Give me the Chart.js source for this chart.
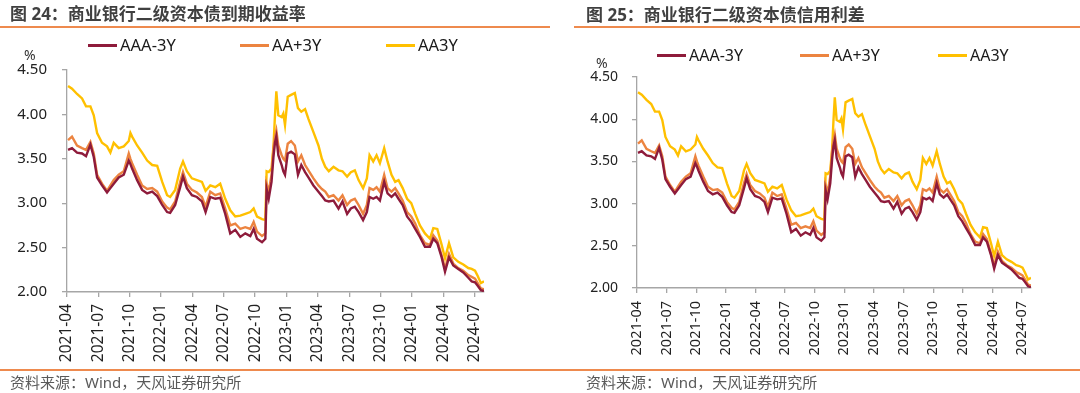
<!DOCTYPE html>
<html>
<head>
<meta charset="utf-8">
<script src="https://cdn.jsdelivr.net/npm/chart.js@4.4.1/dist/chart.umd.min.js"></script>
<style>
body { margin: 0; width: 1080px; height: 393px; overflow: hidden; background: #fff; position: relative;
       font-family: "Noto Sans", "Noto Sans CJK SC", sans-serif; }
.abs { position: absolute; white-space: nowrap; }
.title { font-size: 17px; line-height: 20px; color: #404040; font-weight: bold; }
.rule { position: absolute; background: #EE8A4E; }
.src { font-size: 15px; line-height: 20px; color: #595959; }
.unit { font-size: 14px; line-height: 18px; color: #333; }
.leg { line-height: 20px; color: #1a1a1a; }
.leg i { display: inline-block; width: 29px; height: 3px; vertical-align: middle; margin-right: 3px; position: relative; top: -1px; }
canvas { position: absolute; top: 0; }
</style>
</head>
<body>
<canvas id="c1" width="540" height="385" style="left:0"></canvas>
<canvas id="c2" width="540" height="385" style="left:540px"></canvas>

<div class="abs title" style="left:10px;top:4px">图 24：商业银行二级资本债到期收益率</div>
<div class="abs title" style="left:586px;top:5px">图 25：商业银行二级资本债信用利差</div>
<div class="rule" style="left:0;top:26px;width:550px;height:1.5px"></div>
<div class="rule" style="left:574px;top:26px;width:506px;height:1.5px"></div>
<div class="rule" style="left:0;top:369px;width:1080px;height:2px"></div>
<div class="abs src" style="left:10px;top:372px">资料来源：Wind，天风证券研究所</div>
<div class="abs src" style="left:586px;top:372px">资料来源：Wind，天风证券研究所</div>
<div class="abs unit" style="left:24px;top:46px">%</div>
<div class="abs unit" style="left:596px;top:54px">%</div>
<div id="legends"></div>

<script>
// x tick labels, one per quarter starting 2021-04
const tickLabels = ['2021-04', '2021-07', '2021-10', '2022-01', '2022-04', '2022-07', '2022-10',
                    '2023-01', '2023-04', '2023-07', '2023-10', '2024-01', '2024-04', '2024-07'];

// months since 2021-04-01
const months = [0.1, 0.48, 0.96, 1.44, 1.82, 2.24, 2.56, 2.88, 3.35, 3.83,
                4.15, 4.47, 4.95, 5.43, 5.91, 6.07, 6.23, 6.71, 7.19, 7.67,
                8.15, 8.63, 9.11, 9.58, 9.87, 10.35, 10.83, 11.1, 11.47, 11.95,
                12.43, 12.91, 13.26, 13.71, 14.19, 14.66, 15.14, 15.62, 16.1, 16.58,
                17.06, 17.54, 17.86, 18.18, 18.66, 18.98, 19.1, 19.3, 19.57, 19.76,
                19.9, 20.03, 20.22, 20.54, 20.7, 20.86, 21.12, 21.44, 21.8, 22.1,
                22.42, 22.78, 23.1, 23.58, 24.06, 24.39, 24.71, 25.05, 25.5, 25.98,
                26.36, 26.8, 27.16, 27.54, 27.9, 28.33, 28.69, 28.95, 29.3, 29.62,
                29.94, 30.35, 30.67, 31.05, 31.4, 31.72, 32.12, 32.54, 32.94, 33.32,
                33.77, 34.25, 34.73, 35.05, 35.43, 35.85, 36.17, 36.55, 36.96, 37.44,
                37.92, 38.4, 38.72, 39.04, 39.3, 39.6, 39.9];

const aaa3y = [3.60, 3.62, 3.57, 3.56, 3.53, 3.66, 3.52, 3.29, 3.20, 3.12,
               3.17, 3.22, 3.29, 3.32, 3.48, 3.44, 3.39, 3.26, 3.15, 3.11,
               3.13, 3.08, 2.98, 2.90, 2.89, 2.98, 3.18, 3.30, 3.17, 3.09,
               3.07, 3.02, 2.90, 3.07, 3.05, 3.06, 2.88, 2.66, 2.70, 2.62,
               2.66, 2.63, 2.71, 2.60, 2.56, 2.60, 3.16, 3.05, 3.24, 3.53,
               3.68, 3.75, 3.54, 3.43, 3.36, 3.32, 3.56, 3.58, 3.55, 3.32,
               3.43, 3.35, 3.29, 3.20, 3.13, 3.08, 3.03, 3.02, 3.03, 2.94,
               3.02, 2.88, 2.94, 2.96, 2.90, 2.81, 2.90, 3.07, 3.05, 3.07,
               3.03, 3.24, 3.11, 3.07, 3.11, 3.05, 2.98, 2.85, 2.79, 2.71,
               2.62, 2.51, 2.51, 2.60, 2.55, 2.39, 2.23, 2.39, 2.30, 2.26,
               2.22, 2.16, 2.12, 2.11, 2.07, 2.02, 2.01];

const aaPlus3y = [3.71, 3.75, 3.65, 3.62, 3.60, 3.69, 3.56, 3.32, 3.22, 3.14,
                  3.20, 3.26, 3.32, 3.36, 3.56, 3.50, 3.45, 3.32, 3.20, 3.16,
                  3.17, 3.13, 3.02, 2.95, 2.93, 3.02, 3.24, 3.35, 3.22, 3.15,
                  3.12, 3.07, 2.96, 3.13, 3.09, 3.11, 2.94, 2.75, 2.77, 2.71,
                  2.73, 2.71, 2.79, 2.68, 2.63, 2.66, 3.22, 3.13, 3.32, 3.62,
                  3.75, 3.82, 3.65, 3.54, 3.50, 3.48, 3.67, 3.70, 3.65, 3.47,
                  3.54, 3.43, 3.37, 3.28, 3.20, 3.16, 3.13, 3.07, 3.09, 3.03,
                  3.09, 2.98, 3.03, 3.05, 2.98, 2.88, 2.98, 3.17, 3.15, 3.18,
                  3.13, 3.32, 3.17, 3.13, 3.17, 3.11, 3.03, 2.90, 2.85, 2.77,
                  2.64, 2.55, 2.53, 2.64, 2.58, 2.41, 2.26, 2.43, 2.32, 2.27,
                  2.24, 2.19, 2.17, 2.15, 2.10, 2.04, 2.03];

const aa3y = [4.32, 4.29, 4.23, 4.18, 4.09, 4.09, 3.99, 3.79, 3.68, 3.64,
              3.57, 3.68, 3.62, 3.64, 3.70, 3.79, 3.75, 3.65, 3.57, 3.48,
              3.43, 3.42, 3.24, 3.09, 3.07, 3.15, 3.39, 3.47, 3.36, 3.28,
              3.26, 3.24, 3.14, 3.20, 3.18, 3.22, 3.05, 2.92, 2.85, 2.86,
              2.88, 2.90, 2.94, 2.85, 2.82, 2.81, 3.36, 3.35, 3.39, 3.65,
              3.99, 4.26, 3.99, 3.97, 4.01, 3.88, 4.20, 4.22, 4.24, 4.07,
              4.03, 4.06, 3.95, 3.80, 3.65, 3.50, 3.41, 3.36, 3.41, 3.37,
              3.36, 3.30, 3.35, 3.37, 3.26, 3.17, 3.28, 3.54, 3.47, 3.54,
              3.45, 3.62, 3.47, 3.32, 3.24, 3.26, 3.17, 3.05, 3.00, 2.88,
              2.75, 2.66, 2.60, 2.72, 2.71, 2.53, 2.38, 2.55, 2.39, 2.34,
              2.31, 2.27, 2.26, 2.24, 2.18, 2.10, 2.12];

const seriesNames = ['AAA-3Y', 'AA+3Y', 'AA3Y'];
const seriesColors = ['#8E1B3B', '#EC8440', '#FFC000'];

Chart.defaults.font.family = '"Noto Sans", sans-serif';
const axisGray = '#A6A6A6';

function makeChart(id, g) {
    const series = [aaa3y, aaPlus3y, aa3y];
    return new Chart(document.getElementById(id), {
        type: 'line',
        data: {
            datasets: series.map((vals, k) => ({
                label: seriesNames[k],
                data: months.map((m, i) => ({ x: m, y: vals[i] })),
                borderColor: seriesColors[k],
                backgroundColor: seriesColors[k],
                borderWidth: 2.4,
                pointRadius: 0,
                tension: 0
            }))
        },
        options: {
            responsive: false,
            animation: false,
            devicePixelRatio: 1,
            layout: { padding: { top: g.top, right: g.right, left: 0, bottom: 0 } },
            plugins: { legend: { display: false }, tooltip: { enabled: false } },
            scales: {
                x: {
                    type: 'linear', min: 0, max: 39.9,
                    afterBuildTicks: ax => { ax.ticks = tickLabels.map((_, i) => ({ value: i * 3 })); },
                    afterFit: ax => { ax.height = g.xh; },
                    ticks: {
                        callback: v => tickLabels[Math.round(v / 3)],
                        minRotation: 90, maxRotation: 90, autoSkip: false,
                        padding: g.xpad, color: '#222', font: { size: g.xfont }
                    },
                    grid: { drawOnChartArea: false, tickLength: 5, color: axisGray, lineWidth: 1.3 },
                    border: { color: axisGray, width: 1.6 }
                },
                y: {
                    min: 2, max: 4.5,
                    afterFit: ax => { ax.width = g.yw; },
                    ticks: {
                        stepSize: 0.5, callback: v => v.toFixed(2),
                        padding: g.ypad, color: '#222', font: { size: g.yfont }
                    },
                    grid: { drawOnChartArea: false, tickLength: 5, color: axisGray, lineWidth: 1.3 },
                    border: { color: axisGray, width: 1.3 }
                }
            }
        }
    });
}

makeChart('c1', { top: 70, right: 56, yw: 67, xh: 93, xpad: 7, ypad: 15, xfont: 15.5, yfont: 15 });
makeChart('c2', { top: 77, right: 49, yw: 97, xh: 97, xpad: 8, ypad: 14, xfont: 14.5, yfont: 14 });

// legends (html), one row per panel
const legendRows = [
    { y: 35, size: 16.5, xs: [88, 240, 386] },
    { y: 45, size: 16, xs: [657, 800, 938] }
];
const legendHost = document.getElementById('legends');
legendRows.forEach(row => {
    seriesNames.forEach((name, k) => {
        const d = document.createElement('div');
        d.className = 'abs leg';
        d.style.left = row.xs[k] + 'px';
        d.style.top = row.y + 'px';
        d.style.fontSize = row.size + 'px';
        d.innerHTML = '<i style="background:' + seriesColors[k] + '"></i>' + name;
        legendHost.appendChild(d);
    });
});
</script>
</body>
</html>
